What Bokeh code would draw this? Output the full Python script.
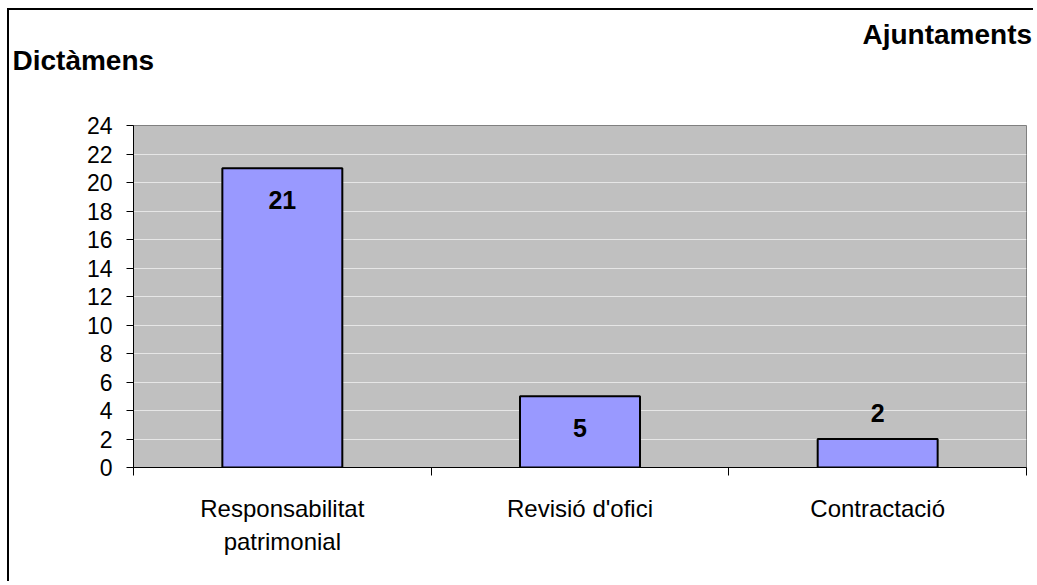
from bokeh.plotting import figure
from bokeh.models import FixedTicker, Title, LabelSet, ColumnDataSource, Range1d
from bokeh.core.properties import value
from bokeh.embed import file_html
from bokeh.resources import INLINE

# ---- data ----
categories = ["Responsabilitat\npatrimonial", "Revisió d'ofici", "Contractació"]
values = [21, 5, 2]
y_ticks = list(range(0, 25, 2))
y_title = "Dictàmens"
chart_title = "Ajuntaments"

FONT = "Liberation Sans"
W, H = 1026, 573
FL, FR, FT, FB = 124, 9, 115, 116  # borders around the frame

p = figure(width=W, height=H, output_backend="svg", toolbar_location=None,
           x_range=Range1d(0, len(categories)), y_range=Range1d(0, 24),
           min_border_left=FL, min_border_right=FR, min_border_top=FT,
           min_border_bottom=FB)
p.styles = {"margin-left": "7px", "margin-top": "8px",
            "border-left": "2px solid black", "border-top": "2px solid black"}
p.background_fill_color = "#C0C0C0"
p.border_fill_color = "white"
p.outline_line_color = "#808080"
p.outline_line_width = 1

xs = [i + 0.5 for i in range(len(categories))]
src = ColumnDataSource(dict(
    x=xs, top=values, text=[str(v) for v in values],
    yoff=[(-32 if v >= 4 else 26) for v in values],
))
p.vbar(x="x", top="top", width=0.403, source=src, fill_color="#9999FF",
       line_color="black", line_width=2)

# grid
p.xgrid.visible = False
p.ygrid.ticker = FixedTicker(ticks=y_ticks)
p.ygrid.grid_line_color = "#E6E6E6"
p.ygrid.grid_line_width = 1

# y axis
p.yaxis.ticker = FixedTicker(ticks=y_ticks)
p.yaxis.axis_line_color = "black"
p.yaxis.major_tick_line_color = "black"
p.yaxis.major_tick_in = 0
p.yaxis.major_tick_out = 7
p.yaxis.minor_tick_line_color = None
p.yaxis.major_label_standoff = 14
p.yaxis.major_label_text_font = FONT
p.yaxis.major_label_text_font_size = "23px"
p.yaxis.major_label_text_color = "black"

# x axis
p.xaxis.ticker = FixedTicker(ticks=xs, minor_ticks=list(range(len(categories) + 1)))
p.xaxis.major_label_overrides = {x: c for x, c in zip(xs, categories)}
p.xaxis.axis_line_color = "black"
p.xaxis.major_tick_line_color = None
p.xaxis.major_tick_in = 0
p.xaxis.major_tick_out = 0
p.xaxis.minor_tick_line_color = "black"
p.xaxis.minor_tick_in = 0
p.xaxis.minor_tick_out = 8
p.xaxis.major_label_standoff = 19
p.xaxis.major_label_text_font = FONT
p.xaxis.major_label_text_font_size = "24px"
p.xaxis.major_label_text_color = "black"
p.xaxis.major_label_text_line_height = 1.25

# data labels
labels = LabelSet(x="x", y="top", text="text", y_offset="yoff", source=src,
                  text_align="center", text_baseline="middle",
                  text_font=value(FONT), text_font_size=value("25px"),
                  text_font_style="bold", text_color="black")
p.add_layout(labels)

# titles (first added sits nearest the frame); the trailing blank line lifts
# the axis title without growing the space above the frame too much
p.add_layout(Title(text=y_title + "\n", align="left", offset=3 - FL, standoff=38,
                   text_font=FONT, text_font_size="28px", text_font_style="bold",
                   text_color="black"), "above")
p.add_layout(Title(text=chart_title, align="left", offset=853 - FL, standoff=-52,
                   text_font=FONT, text_font_size="28px", text_font_style="bold",
                   text_color="black"), "above")

open("out.html", "w").write(file_html(p, INLINE))
